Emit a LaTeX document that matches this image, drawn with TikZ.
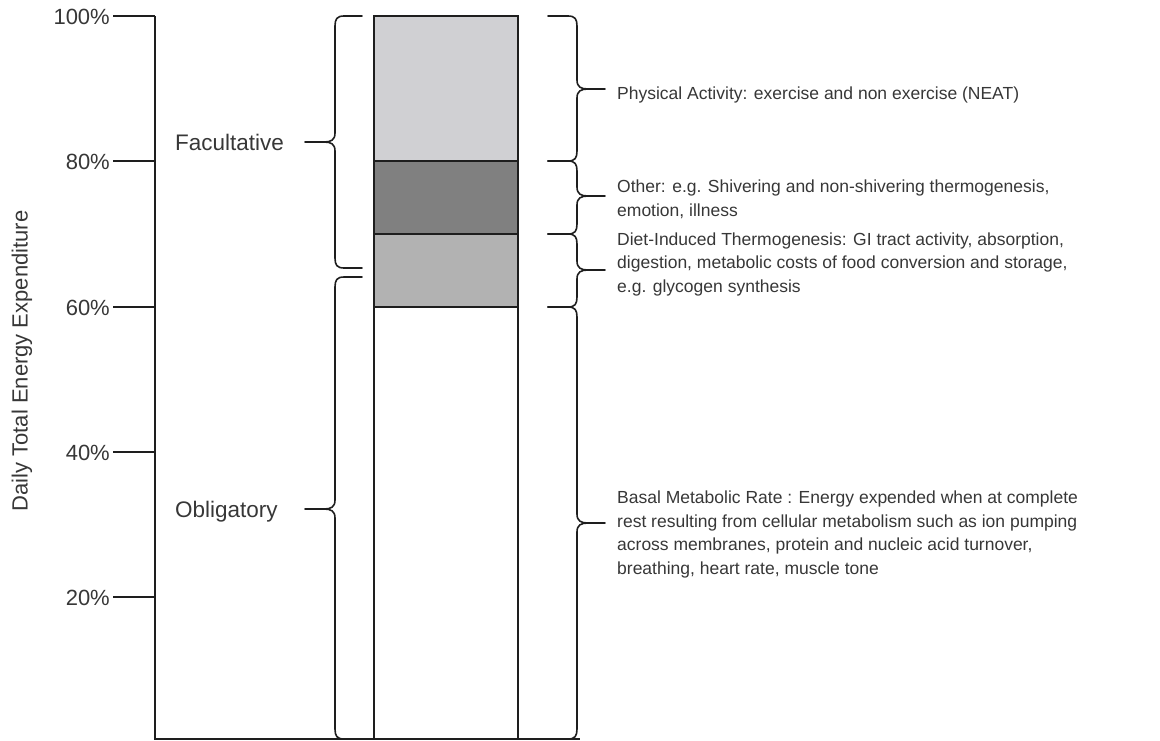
\documentclass[tikz,border=0pt]{standalone}
\usepackage{fontspec}
\setmainfont{Liberation Sans}
\definecolor{shadeA}{RGB}{208,208,211}
\definecolor{shadeB}{RGB}{128,128,128}
\definecolor{shadeC}{RGB}{178,178,178}
\definecolor{ink}{RGB}{30,30,30}
\definecolor{txt}{RGB}{55,55,55}
\tikzset{
  rule/.style={draw=ink, line width=1.6pt},
  bracestyle/.style={draw=ink, line width=1.6pt, line cap=round},
  pct/.style={anchor=base east, inner sep=0pt, text=txt, font=\fontsize{22}{26}\selectfont},
  side/.style={anchor=base west, inner sep=0pt, text=txt, font=\fontsize{22.5}{26}\selectfont},
  % multi-line notes are placed by the baseline of their last line
  note/.style={anchor=base west, align=left, inner sep=0pt, text=txt, font=\fontsize{17.5}{23.5}\selectfont},
}
% opening brace: x of spine, top, tip, bottom
\newcommand{\openbrace}[4]{%
  \draw[bracestyle] (#1+27,#2) -- (#1+9,#2) .. controls (#1+2,#2) and (#1,#2+3) .. (#1,#2+10)
    -- (#1,#3-9) .. controls (#1,#3-2) and (#1-4,#3) .. (#1-11,#3) -- (#1-30,#3);
  \draw[bracestyle] (#1-11,#3) .. controls (#1-4,#3) and (#1,#3+2) .. (#1,#3+9)
    -- (#1,#4-10) .. controls (#1,#4-3) and (#1+2,#4) .. (#1+9,#4) -- (#1+27,#4);
}
% closing brace: x of spine, top, tip, bottom
\newcommand{\closebrace}[4]{%
  \draw[bracestyle] (#1-29,#2) -- (#1-9,#2) .. controls (#1-2,#2) and (#1,#2+3) .. (#1,#2+10)
    -- (#1,#3-9) .. controls (#1,#3-2) and (#1+4,#3) .. (#1+11,#3) -- (#1+28,#3);
  \draw[bracestyle] (#1+11,#3) .. controls (#1+4,#3) and (#1,#3+2) .. (#1,#3+9)
    -- (#1,#4-10) .. controls (#1,#4-3) and (#1-2,#4) .. (#1-9,#4) -- (#1-29,#4);
}
\begin{document}
\begin{tikzpicture}[x=1pt, y=-1pt]
\useasboundingbox (0,0) rectangle (1160,740);

% stacked bar
\fill[shadeA] (374,16) rectangle (518,161);
\fill[shadeB] (374,161) rectangle (518,234);
\fill[shadeC] (374,234) rectangle (518,307);
\draw[rule] (374,161) -- (518,161);
\draw[rule] (374,234) -- (518,234);
\draw[rule] (374,307) -- (518,307);
\draw[rule] (374,739) |- (518,16) -- (518,739);
\draw[rule] (374,16) -- (374,739);

% axis with ticks
\coordinate (axtop) at (155,16);
\coordinate (axbot) at (155,739);
\draw[rule] (axtop) -- (axbot) -- (580,739);
\foreach \yy/\lab in {16/100, 161/80, 307/60, 452/40, 597/20} {
  \draw[rule] (113,\yy) -- (155,\yy);
  \node[pct] (p\lab) at (110,\yy+8) {\lab\%};
}
\node[rotate=90, text=txt, font=\fontsize{22}{26}\selectfont] (axlabel) at (22,361) {Daily Total Energy Expenditure};

% left braces and labels
\openbrace{335}{16}{142}{268}
\openbrace{335}{277}{509}{739}
\node[side] (facult) at (175,150) {Facultative};
\node[side] (oblig) at (175,517) {Obligatory};

% right braces and notes
\closebrace{577}{16}{89}{161}
\closebrace{577}{161}{196}{234}
\closebrace{577}{234}{270}{307}
\closebrace{577}{307}{523}{739}
\node[note] (pa) at (617,99) {Physical Activity: exercise and non exercise (NEAT)};
\node[note] (oth) at (617,216) {Other: e.g. Shivering and non-shivering thermogenesis,\\ emotion, illness};
\node[note] (dit) at (617,292) {Diet-Induced Thermogenesis: GI tract activity, absorption,\\ digestion, metabolic costs of food conversion and storage,\\ e.g. glycogen synthesis};
\node[note] (bmr) at (617,574) {Basal Metabolic Rate : Energy expended when at complete\\ rest resulting from cellular metabolism such as ion pumping\\ across membranes, protein and nucleic acid turnover,\\ breathing, heart rate, muscle tone};
\end{tikzpicture}
\end{document}
